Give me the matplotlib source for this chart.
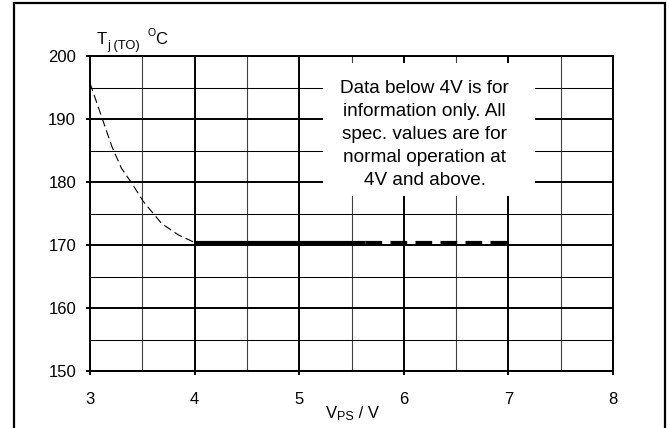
import matplotlib
matplotlib.use("Agg")
import matplotlib.pyplot as plt
from matplotlib.patches import Rectangle
from matplotlib.ticker import MultipleLocator

plt.rcParams['font.family'] = ['Liberation Sans', 'DejaVu Sans']
plt.rcParams['lines.scale_dashes'] = False

# ---- data ----
vps_low = [3.0, 3.11, 3.21, 3.30, 3.40, 3.51, 3.685, 3.845, 4.0]
tj_low = [195.7, 190.4, 185.6, 182.2, 179.8, 176.9, 173.4, 171.6, 170.4]
vps_solid = [4.0, 5.63]
tj_solid = [170.4, 170.4]
vps_dash = [5.63, 7.0]
tj_dash = [170.4, 170.4]
x_ticks = [3, 4, 5, 6, 7, 8]
y_ticks = [150, 160, 170, 180, 190, 200]
note = "Data below 4V is for\ninformation only. All\nspec. values are for\nnormal operation at\n4V and above."

W, H = 669, 428
fig = plt.figure(figsize=(W / 100, H / 100), dpi=100)

def fx(x):
    return x / W

def fy(y):
    return 1 - y / H

ax = fig.add_axes([fx(90), fy(371), (613 - 90) / W, (371 - 56) / H])
ax.set_xlim(3, 8)
ax.set_ylim(150, 200)
ax.set_xticks(x_ticks)
ax.set_yticks(y_ticks)
ax.xaxis.set_minor_locator(MultipleLocator(0.5))
ax.yaxis.set_minor_locator(MultipleLocator(5))
ax.set_axisbelow(True)
ax.grid(which='major', axis='both', color='black', lw=1.4)
ax.grid(which='minor', axis='y', color='black', lw=0.75)
ax.grid(which='minor', axis='x', color='#404040', lw=0.8)
ax.tick_params(which='major', direction='out', length=3, width=1.4,
               labelsize=12, color='black')
ax.tick_params(axis='x', pad=12)
ax.tick_params(axis='y', pad=7)
ax.tick_params(which='minor', length=0)
for s in ax.spines.values():
    s.set_linewidth(1.4)
    s.set_color('black')

# note box (white, hides grid)
ax.add_patch(Rectangle((5.23, 177.8), 2.02, 21.1, facecolor='white',
                       edgecolor='none', zorder=1))
ax.text(6.2, 187.6, note, ha='center', va='center', fontsize=13.7,
        linespacing=1.46, zorder=3)

ax.plot(vps_low, tj_low, color='black', lw=0.8, ls=(0, (6, 3)), zorder=2)
ax.plot(vps_solid, tj_solid, color='black', lw=2.3, solid_capstyle='butt', zorder=2)
ax.plot(vps_dash, tj_dash, color='black', lw=2.3, ls=(0, (12, 6)),
        dash_capstyle='butt', zorder=2)

# axis titles
fig.text(fx(97), fy(44), "T", fontsize=12, ha='left', va='baseline')
fig.text(fx(107), fy(49), "j (TO)", fontsize=9.3, ha='left', va='baseline')
fig.text(fx(147), fy(36), "O", fontsize=7.5, ha='left', va='baseline')
fig.text(fx(155), fy(44), "C", fontsize=12, ha='left', va='baseline')

fig.text(fx(326), fy(418), "V", fontsize=12, ha='left', va='baseline')
fig.text(fx(337.5), fy(420), "PS", fontsize=9, ha='left', va='baseline')
fig.text(fx(354), fy(418), " / V", fontsize=12, ha='left', va='baseline')

# outer frame
fig.patches.append(Rectangle((fx(13.5), fy(440)), (665 - 13.5) / W, (440 - 3.5) / H,
                             transform=fig.transFigure, fill=False,
                             edgecolor='black', lw=1.6))

fig.savefig("out.png", dpi=100)
